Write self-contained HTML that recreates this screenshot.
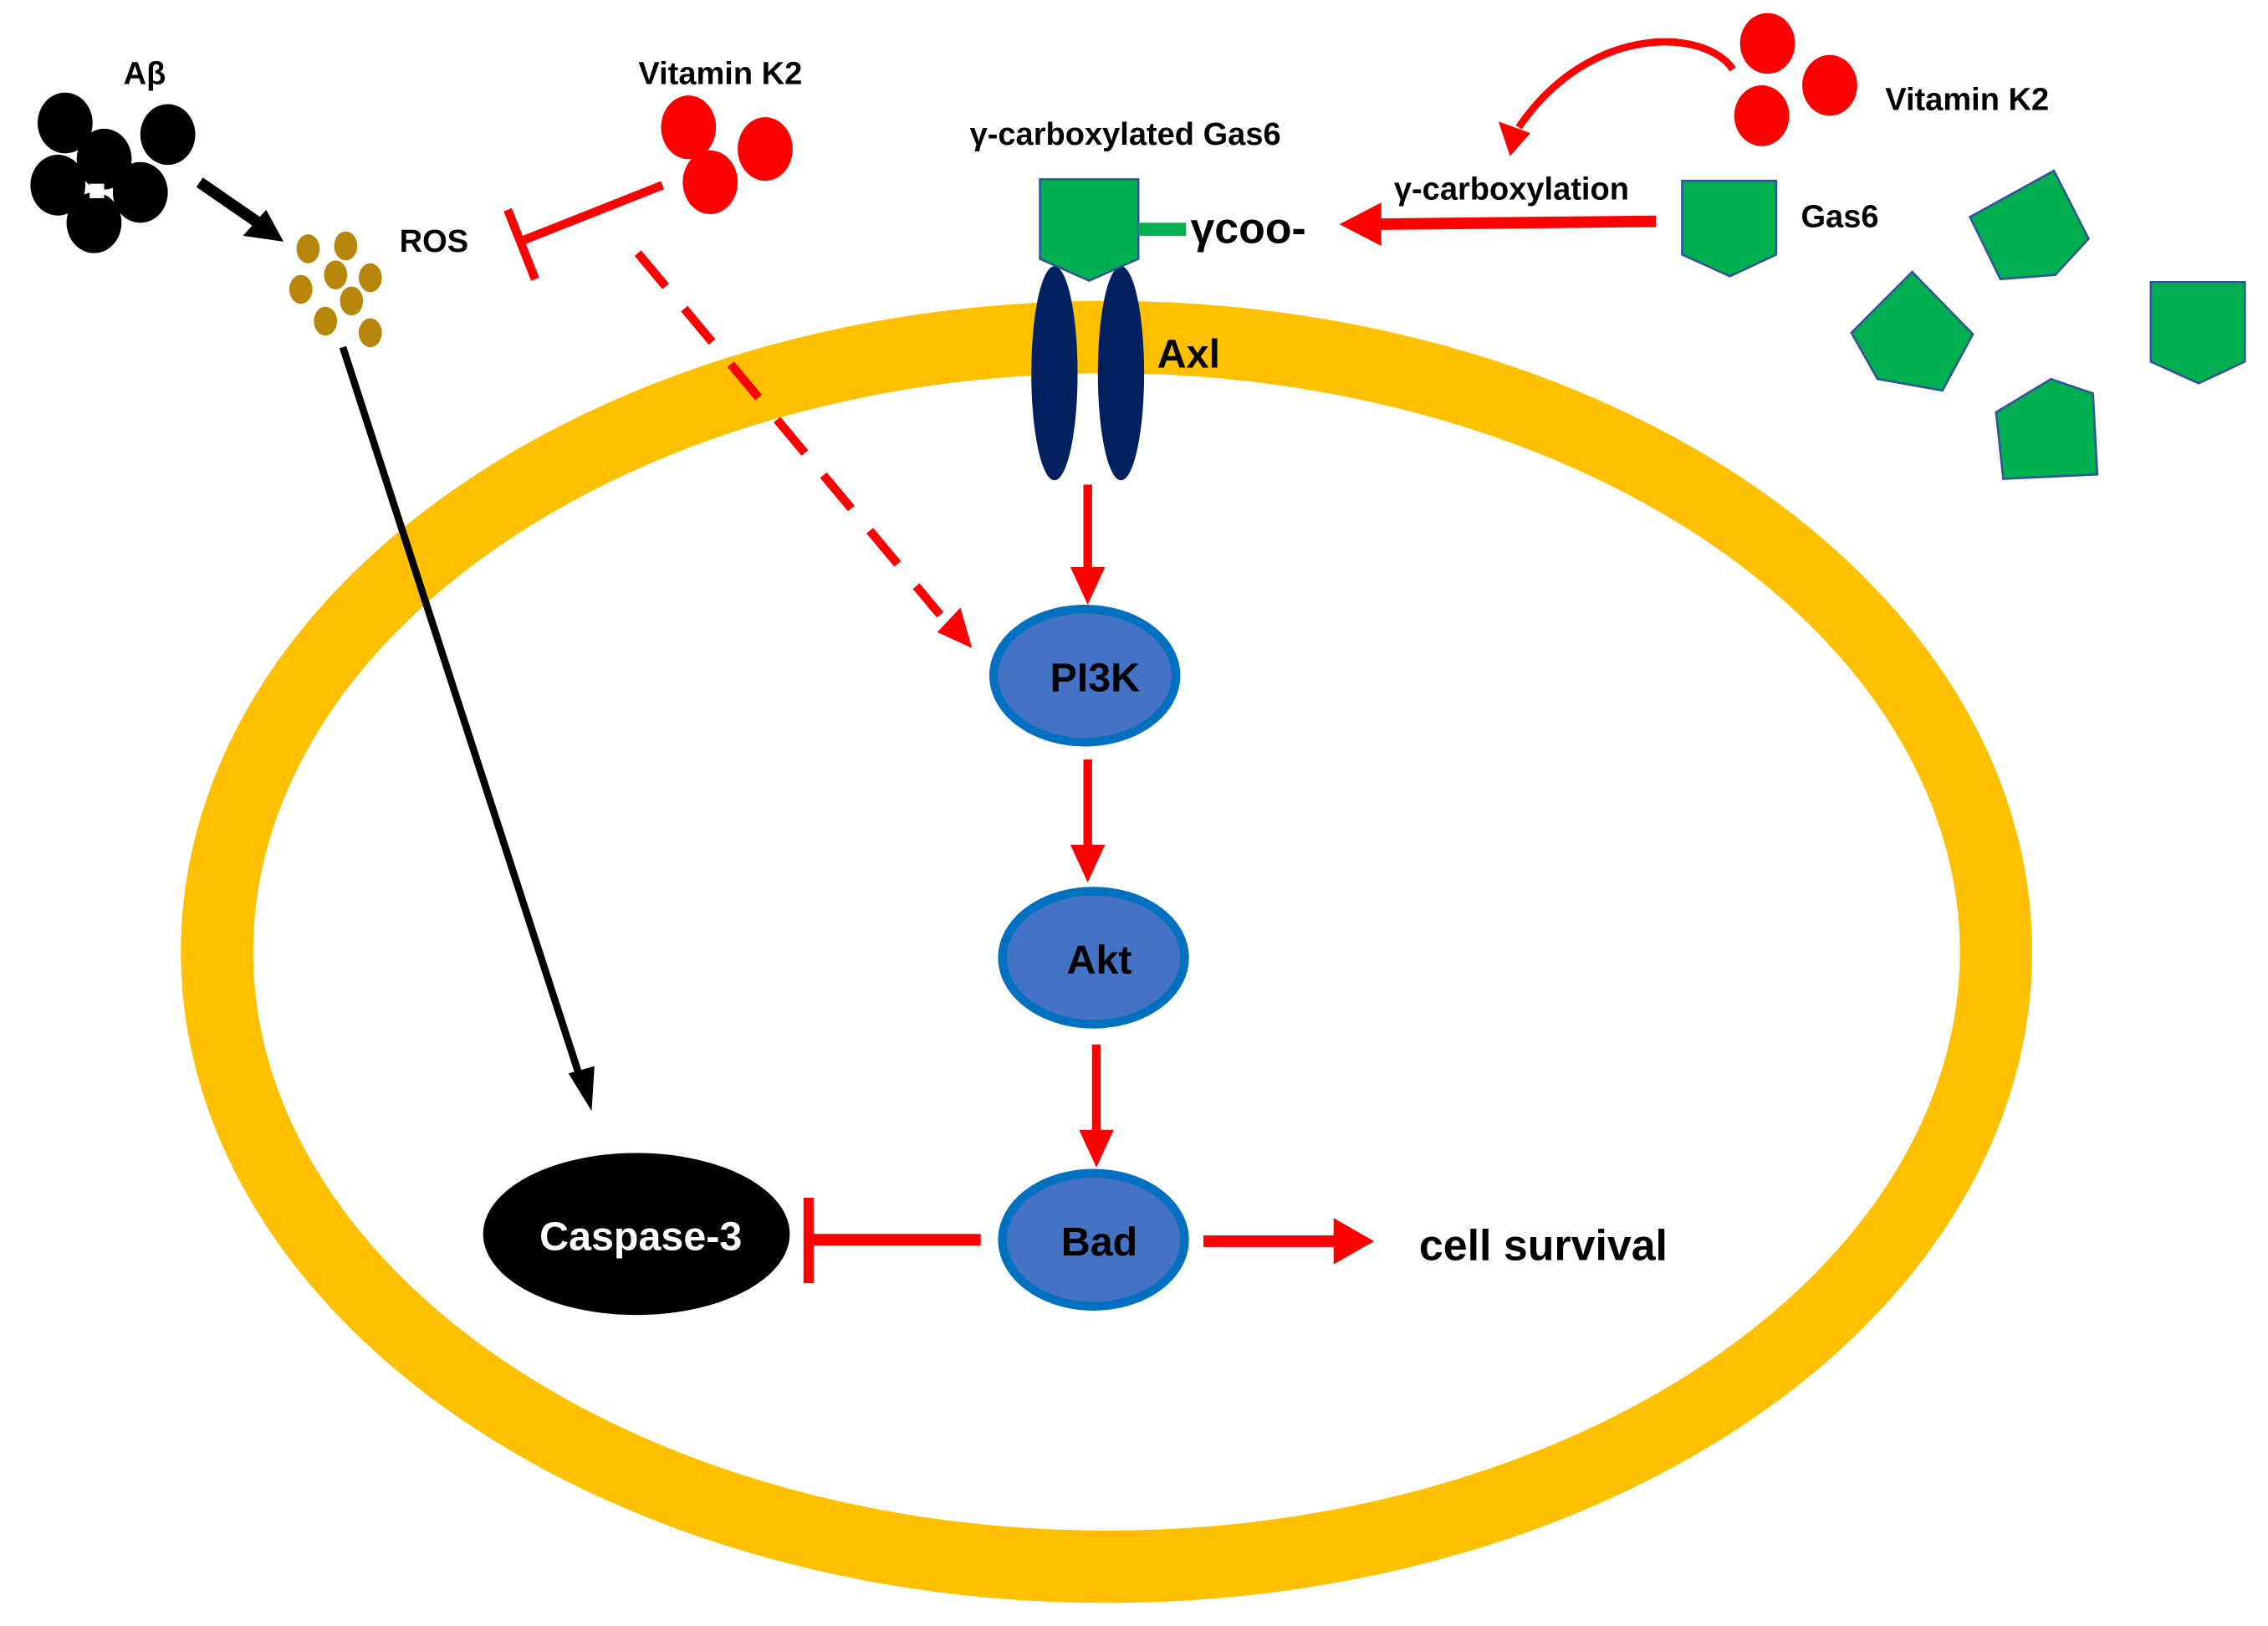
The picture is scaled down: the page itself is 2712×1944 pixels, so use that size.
<!DOCTYPE html>
<html><head><meta charset="utf-8"><style>
html,body{margin:0;padding:0;background:#fff;}
svg{display:block;}
text{font-family:"Liberation Sans Narrow","Liberation Sans",sans-serif;font-weight:bold;fill:#000;}
</style></head><body>
<svg width="2712" height="1944" viewBox="0 0 1568 1124" xmlns="http://www.w3.org/2000/svg">
<defs>
<marker id="ra" markerWidth="10" markerHeight="10" refX="5" refY="5" orient="auto" markerUnits="userSpaceOnUse" viewBox="0 0 10 10"><path d="M0,0 L10,5 L0,10 z" fill="#ff0000"/></marker>
</defs>
<!-- cell membrane -->
<ellipse cx="765" cy="658" rx="615" ry="425" fill="none" stroke="#ffc000" stroke-width="50"/>

<!-- Abeta -->
<text x="100" y="58" font-size="22" text-anchor="middle">Aβ</text>
<g fill="#000">
<ellipse cx="45" cy="85" rx="19" ry="21"/><ellipse cx="116" cy="93" rx="19" ry="21"/>
<ellipse cx="72" cy="110" rx="19" ry="21"/><ellipse cx="40" cy="128" rx="19" ry="21"/>
<ellipse cx="97" cy="133" rx="19" ry="21"/><ellipse cx="65" cy="154" rx="19" ry="21"/>
</g>
<rect x="62" y="127" width="10" height="10" fill="#fff"/>
<line x1="138" y1="126" x2="180" y2="155" stroke="#000" stroke-width="8"/>
<path d="M196,167 L168,163 L184,145 z" fill="#000"/>

<!-- ROS dots -->
<g fill="#b8860b">
<ellipse cx="213" cy="172" rx="8" ry="10"/><ellipse cx="239" cy="170" rx="8" ry="10"/>
<ellipse cx="232" cy="190" rx="8" ry="10"/><ellipse cx="256" cy="192" rx="8" ry="10"/>
<ellipse cx="208" cy="200" rx="8" ry="10"/><ellipse cx="243" cy="208" rx="8" ry="10"/>
<ellipse cx="225" cy="222" rx="8" ry="10"/><ellipse cx="256" cy="230" rx="8" ry="10"/>
</g>
<text x="300" y="174" font-size="22" text-anchor="middle">ROS</text>

<!-- Vitamin K2 left -->
<text x="498" y="58" font-size="22" text-anchor="middle">Vitamin K2</text>
<g fill="#ff0000">
<ellipse cx="476" cy="88" rx="19" ry="22"/><ellipse cx="529" cy="103" rx="19" ry="22"/>
<ellipse cx="491" cy="126" rx="19" ry="22"/>
</g>
<line x1="458" y1="128" x2="362" y2="166" stroke="#ff0000" stroke-width="6"/>
<line x1="351" y1="145" x2="370" y2="193" stroke="#ff0000" stroke-width="6"/>
<line x1="441" y1="175" x2="650" y2="425" stroke="#ff0000" stroke-width="6" stroke-dasharray="30,20"/>
<path d="M672,448 L648,437 L664,420 z" fill="#ff0000"/>

<!-- black line ROS -> caspase -->
<line x1="237" y1="240" x2="402" y2="748" stroke="#000" stroke-width="5"/>
<path d="M409,768 L393,742 L411,737 z" fill="#000"/>

<!-- gamma-carboxylated Gas6 -->
<text x="778" y="100" font-size="22" text-anchor="middle">γ-carboxylated Gas6</text>
<ellipse cx="729" cy="258" rx="16" ry="74" fill="#002060"/>
<ellipse cx="775" cy="258" rx="16" ry="74" fill="#002060"/>
<path d="M719,124 L787,124 L787,179 L753,194 L719,179 z" fill="#00b050" stroke="#2f5597" stroke-width="1.5"/>
<rect x="787" y="154" width="33" height="9" fill="#00b050"/>
<text x="823" y="168" font-size="30" font-weight="normal" style="font-weight:bold">γcoo-</text>
<text x="800" y="254" font-size="28">Axl</text>

<!-- right side -->
<g fill="#ff0000">
<ellipse cx="1222" cy="30" rx="19" ry="21"/><ellipse cx="1265" cy="59" rx="19" ry="21"/>
<ellipse cx="1218" cy="80" rx="19" ry="21"/>
</g>
<text x="1360" y="76" font-size="22" text-anchor="middle">Vitamin K2</text>
<path d="M1198,48 C1180,20 1100,15 1050,88" fill="none" stroke="#ff0000" stroke-width="5"/>
<path d="M1044,108 L1036,84 L1058,92 z" fill="#ff0000"/>
<text x="1045" y="138" font-size="22" text-anchor="middle">γ-carboxylation</text>
<line x1="1145" y1="153" x2="950" y2="155" stroke="#ff0000" stroke-width="8"/>
<path d="M926,155 L955,140 L955,170 z" fill="#ff0000"/>
<path d="M1163,125 L1228,125 L1228,176 L1196,191 L1163,176 z" fill="#00b050" stroke="#2f5597" stroke-width="1.5"/>
<text x="1272" y="157" font-size="22" text-anchor="middle">Gas6</text>
<g fill="#00b050" stroke="#2f5597" stroke-width="1.5">
<path d="M1362,150 L1420,118 L1444,165 L1421,190 L1383,193 z"/>
<path d="M1280,230 L1322,188 L1364,231 L1343,270 L1298,262 z"/>
<path d="M1487,195 L1552,195 L1552,250 L1520,265 L1487,250 z"/>
<path d="M1380,285 L1418,262 L1447,272 L1450,328 L1385,331 z"/>
</g>

<!-- pathway -->
<line x1="752" y1="335" x2="752" y2="398" stroke="#ff0000" stroke-width="6"/>
<path d="M752,418 L740,392 L764,392 z" fill="#ff0000"/>
<ellipse cx="750" cy="467" rx="63" ry="46" fill="#4472c4" stroke="#0070c0" stroke-width="6"/>
<text x="757" y="478" font-size="28" text-anchor="middle">PI3K</text>
<line x1="752" y1="525" x2="752" y2="588" stroke="#ff0000" stroke-width="6"/>
<path d="M752,610 L740,584 L764,584 z" fill="#ff0000"/>
<ellipse cx="756" cy="662" rx="63" ry="46" fill="#4472c4" stroke="#0070c0" stroke-width="6"/>
<text x="760" y="673" font-size="28" text-anchor="middle">Akt</text>
<line x1="758" y1="722" x2="758" y2="785" stroke="#ff0000" stroke-width="6"/>
<path d="M758,807 L746,781 L770,781 z" fill="#ff0000"/>
<ellipse cx="756" cy="857" rx="63" ry="46" fill="#4472c4" stroke="#0070c0" stroke-width="6"/>
<text x="760" y="868" font-size="28" text-anchor="middle">Bad</text>

<line x1="678" y1="857" x2="562" y2="857" stroke="#ff0000" stroke-width="8"/>
<line x1="559" y1="828" x2="559" y2="887" stroke="#ff0000" stroke-width="7"/>
<ellipse cx="440" cy="853" rx="106" ry="56" fill="#000"/>
<text x="443" y="864" font-size="28" text-anchor="middle" style="fill:#fff">Caspase-3</text>

<line x1="832" y1="858" x2="925" y2="858" stroke="#ff0000" stroke-width="8"/>
<path d="M950,858 L922,842 L922,874 z" fill="#ff0000"/>
<text x="1067" y="871" font-size="30" text-anchor="middle">cell survival</text>
</svg>
</body></html>
